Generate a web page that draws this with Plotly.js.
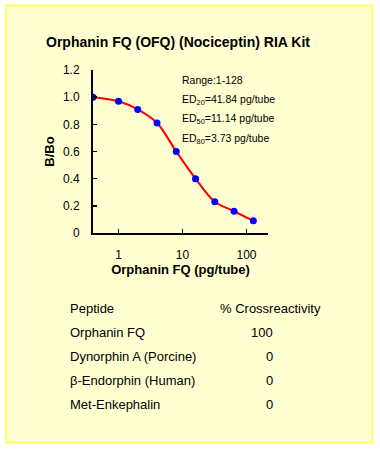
<!DOCTYPE html>
<html>
<head>
<meta charset="utf-8">
<script src="https://cdn.plot.ly/plotly-3.0.1.min.js"></script>
<style>html,body{margin:0;padding:0;background:#fff;}#chart{width:380px;height:452px;}</style>
</head>
<body>
<div id="chart"></div>
<script>
// ---- data ----
var dose = [0.4, 1, 2, 4, 8, 16, 32, 64, 128];
var bbo = [1.0, 0.97, 0.91, 0.81, 0.60, 0.40, 0.23, 0.16, 0.09];
var xTickVals = [1, 10, 100];
var xTickText = ["1", "10", "100"];
var yTickVals = [0, 0.2, 0.4, 0.6, 0.8, 1.0, 1.2];
var yTickText = ["0", "0.2", "0.4", "0.6", "0.8", "1.0", "1.2"];
var infoLines = ["Range:1-128", "ED<sub>20</sub>=41.84 pg/tube", "ED<sub>50</sub>=11.14 pg/tube", "ED<sub>80</sub>=3.73 pg/tube"];
var tableHeader = ["Peptide", "% Crossreactivity"];
var peptides = ["Orphanin FQ", "Dynorphin A (Porcine)", "β-Endorphin (Human)", "Met-Enkephalin"];
var crossreact = ["100", "0", "0", "0"];

// ---- layout geometry (px) ----
var W = 380, H = 452;
var L = 93, R = 112, T = 70, B = 219;
var pw = W - L - R, ph = H - T - B;
function px(x) { return (x - L) / pw; }
function py(y) { return (H - B - y) / ph; }

var font = "Arial, 'Liberation Sans', sans-serif";
var ann = [];
infoLines.forEach(function (t, i) {
  ann.push({text: t, xref: "paper", yref: "paper", x: px(180), y: py(80 + i * 19.6),
    xanchor: "left", yanchor: "middle", showarrow: false,
    font: {family: font, size: 10.5, color: "#000"}});
});
ann.push({text: tableHeader[0], xref: "paper", yref: "paper", x: px(67.5), y: py(308),
  xanchor: "left", yanchor: "middle", showarrow: false, font: {family: font, size: 13, color: "#000"}});
ann.push({text: tableHeader[1], xref: "paper", yref: "paper", x: px(217.5), y: py(308),
  xanchor: "left", yanchor: "middle", showarrow: false, font: {family: font, size: 13, color: "#000"}});
peptides.forEach(function (p, i) {
  var yy = 332.5 + i * 24;
  ann.push({text: p, xref: "paper", yref: "paper", x: px(67.5), y: py(yy),
    xanchor: "left", yanchor: "middle", showarrow: false, font: {family: font, size: 13, color: "#000"}});
  ann.push({text: crossreact[i], xref: "paper", yref: "paper", x: px(274.5), y: py(yy),
    xanchor: "right", yanchor: "middle", showarrow: false, font: {family: font, size: 13, color: "#000"}});
});

var trace = {
  x: dose, y: bbo, type: "scatter", mode: "lines+markers",
  line: {color: "#ff0000", width: 2, shape: "spline", smoothing: 1},
  marker: {color: "#0000ff", size: 7},
  hoverinfo: "skip"
};

var layout = {
  width: W, height: H,
  margin: {l: L, r: R, t: T, b: B, pad: 0},
  paper_bgcolor: "#ffffff",
  plot_bgcolor: "rgba(0,0,0,0)",
  showlegend: false,
  font: {family: font, color: "#000"},
  title: {text: "<b>Orphanin FQ (OFQ) (Nociceptin) RIA Kit</b>", font: {family: font, size: 14, color: "#000"},
    xref: "container", yref: "container", x: 178 / W, y: 1 - 42 / H, xanchor: "center", yanchor: "middle"},
  xaxis: {
    type: "log", range: [Math.log10(0.4), Math.log10(0.4) + pw / 64],
    tickvals: xTickVals, ticktext: xTickText, ticks: "inside", ticklen: 4, tickwidth: 1.5, tickcolor: "#000",
    showline: true, linecolor: "#000", linewidth: 2, showgrid: false, zeroline: false,
    tickfont: {family: font, size: 12, color: "#000"}, ticklabelstandoff: 10,
    title: {text: "<b>Orphanin FQ (pg/tube)</b>", font: {family: font, size: 13, color: "#000"}, standoff: 3}
  },
  yaxis: {
    range: [0, 1.2], tickvals: yTickVals, ticktext: yTickText, ticks: "inside", ticklen: 4, tickwidth: 1.5, tickcolor: "#000",
    showline: true, linecolor: "#000", linewidth: 2, showgrid: false, zeroline: false,
    tickfont: {family: font, size: 12, color: "#000"}, ticklabelstandoff: 9,
    title: {text: "<b>B/Bo</b>", font: {family: font, size: 13, color: "#000"}, standoff: 5}
  },
  shapes: [{
    type: "rect", xref: "paper", yref: "paper", layer: "below",
    x0: px(6), x1: px(372.5), y0: py(442.5), y1: py(5.5),
    fillcolor: "#ffffd2", line: {color: "#ffff66", width: 2}
  }],
  annotations: ann
};

Plotly.newPlot("chart", [trace], layout, {displayModeBar: false, staticPlot: true});
</script>
</body>
</html>
